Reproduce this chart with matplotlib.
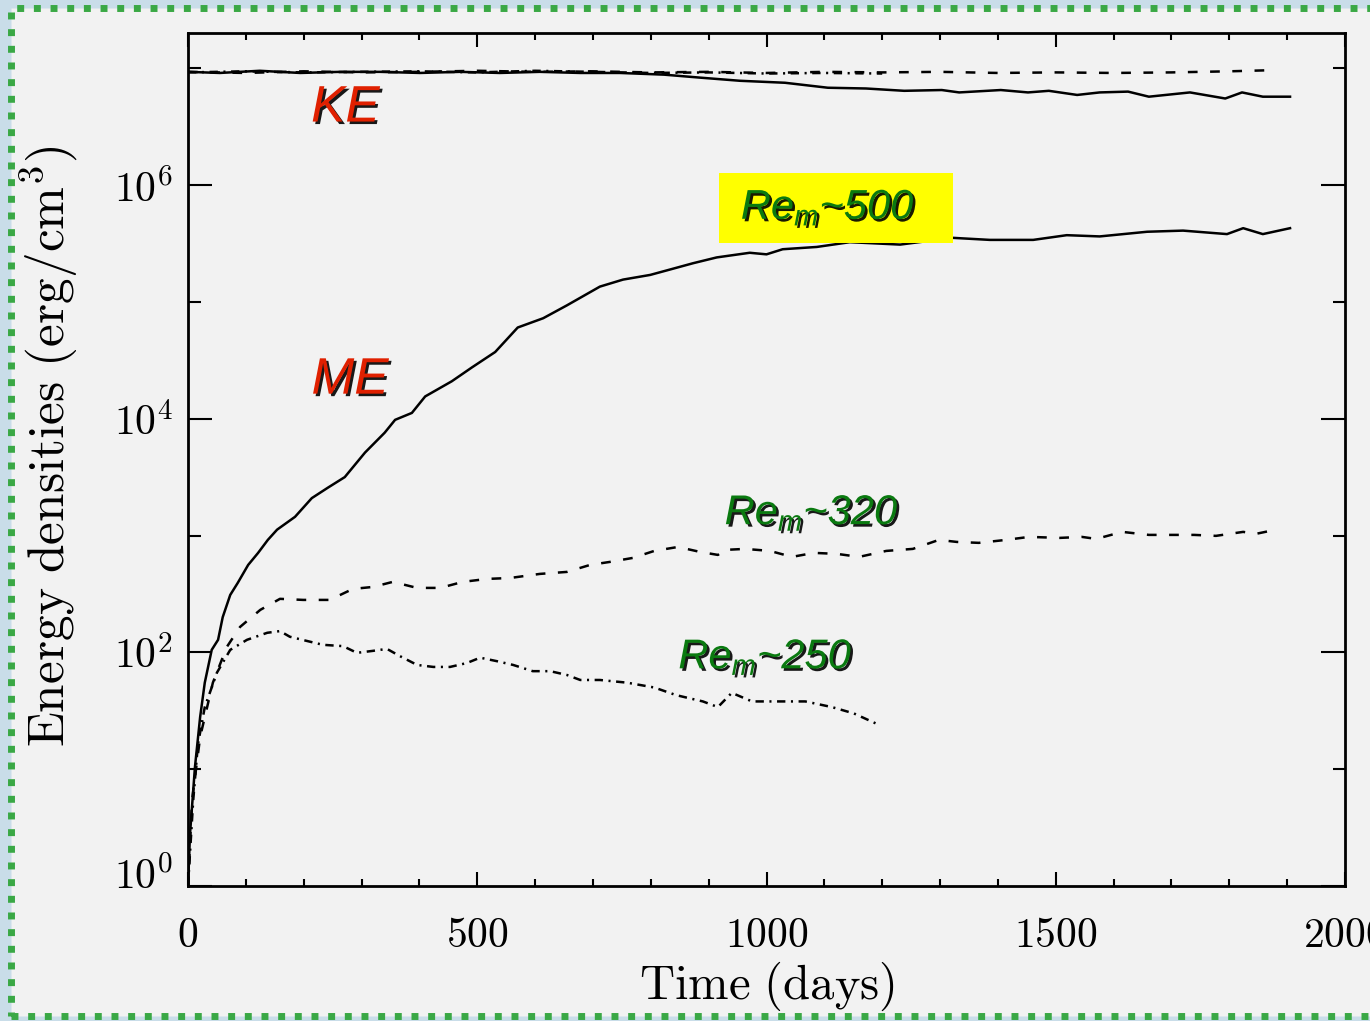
import matplotlib
matplotlib.use("Agg")
import matplotlib.pyplot as plt
import matplotlib.patheffects as pe
from matplotlib.patches import Rectangle
from matplotlib.ticker import FixedLocator, NullFormatter
from matplotlib.transforms import ScaledTranslation

plt.rcParams["mathtext.fontset"] = "cm"
plt.rcParams["mathtext.rm"] = "Liberation Sans"
plt.rcParams["mathtext.it"] = "Liberation Sans:italic"
plt.rcParams["lines.scale_dashes"] = False

# ---- data (time in days, energy density in erg/cm^3) ----
# magnetic energy, Re_m ~ 500 (solid)
t_me500 = [0, 3.5, 12, 21, 29, 41, 52, 60, 73, 86, 104, 121, 138, 154, 185, 214, 242,
           271, 306, 340, 358, 387, 410, 456, 491, 531, 570, 614, 655, 712, 752, 799,
           828, 873, 914, 971, 1000, 1028, 1087, 1144, 1231, 1322, 1386, 1461, 1519,
           1576, 1658, 1720, 1796, 1824, 1858, 1905]
me500 = [1.0, 2.8, 10.4, 28, 55, 105, 128, 200, 310, 393, 560, 708, 917, 1122, 1445,
         2089, 2570, 3162, 5129, 7586, 9772, 1.12e4, 1.55e4, 2.09e4, 2.75e4, 3.72e4,
         6.03e4, 7.24e4, 9.33e4, 1.35e5, 1.55e5, 1.70e5, 1.86e5, 2.14e5, 2.40e5, 2.63e5,
         2.55e5, 2.82e5, 2.95e5, 3.24e5, 3.09e5, 3.53e5, 3.39e5, 3.39e5, 3.72e5, 3.63e5,
         3.98e5, 4.07e5, 3.80e5, 4.27e5, 3.80e5, 4.27e5]

# magnetic energy, Re_m ~ 320 (dashed)
t_me320 = [0, 7, 21, 43, 67, 90, 125, 159, 199, 245, 285, 320, 354, 396, 436, 475, 517,
           557, 608, 655, 695, 729, 769, 806, 847, 885, 916, 928, 963, 1006, 1044, 1082,
           1122, 1160, 1207, 1253, 1298, 1329, 1367, 1414, 1454, 1507, 1545, 1570, 1615,
           1661, 1699, 1739, 1777, 1824, 1846, 1870]
me320 = [1.0, 5.4, 18.9, 55, 111, 165, 231, 287, 281, 281, 349, 363, 401, 356, 356, 401,
         425, 433, 469, 488, 560, 594, 643, 738, 798, 724, 682, 753, 768, 738, 656, 710,
         696, 656, 738, 768, 917, 881, 865, 917, 973, 954, 973, 935, 1074, 1012, 1012,
         1012, 993, 1074, 1033, 1094]

# magnetic energy, Re_m ~ 250 (dash-dot)
t_me250 = [0, 9, 17, 29, 50, 73, 102, 137, 159, 176, 206, 233, 268, 292, 320, 344, 366,
           396, 424, 453, 482, 505, 534, 562, 596, 626, 655, 678, 712, 759, 806, 844, 890,
           916, 940, 975, 1022, 1067, 1113, 1151, 1194]
me250 = [1.0, 5.4, 16.1, 34, 67, 105, 128, 147, 152, 136, 125, 116, 113, 99, 103, 107, 93,
         78, 75, 75, 81, 90, 84, 78, 69, 69, 64, 58, 58, 55, 50, 43, 38, 34, 45, 38, 38,
         38, 34, 30, 24]

# kinetic energy curves
t_ke500 = [0, 55, 124, 194, 263, 332, 401, 470, 539, 608, 678, 747, 823, 885, 954, 1032,
           1106, 1172, 1238, 1303, 1333, 1405, 1452, 1488, 1537, 1576, 1625, 1661, 1732,
           1793, 1822, 1858, 1905]
ke500 = [9.3e6, 9.1e6, 9.5e6, 9.1e6, 9.3e6, 9.3e6, 9.1e6, 9.3e6, 9.1e6, 9.3e6, 9.1e6,
         9.1e6, 8.8e6, 8.3e6, 7.8e6, 7.5e6, 6.8e6, 6.7e6, 6.4e6, 6.5e6, 6.2e6, 6.5e6,
         6.2e6, 6.4e6, 5.9e6, 6.2e6, 6.3e6, 5.7e6, 6.2e6, 5.5e6, 6.2e6, 5.7e6, 5.7e6]

t_ke320 = [0, 100, 200, 300, 400, 500, 600, 700, 800, 900, 1000, 1100, 1200, 1300, 1400,
           1500, 1600, 1700, 1800, 1870]
ke320 = [9.3e6, 9.1e6, 9.4e6, 9.2e6, 9.3e6, 9.5e6, 9.3e6, 9.4e6, 9.2e6, 9.3e6, 9.1e6,
         9.3e6, 9.2e6, 9.3e6, 9.1e6, 9.2e6, 9.1e6, 9.2e6, 9.4e6, 9.6e6]

t_ke250 = [0, 100, 200, 300, 400, 500, 600, 700, 800, 900, 1000, 1100, 1200]
ke250 = [9.2e6, 9.4e6, 9.2e6, 9.3e6, 9.4e6, 9.2e6, 9.5e6, 9.3e6, 9.1e6, 9.2e6, 9.0e6,
         9.1e6, 9.0e6]

x_major = [0, 500, 1000, 1500, 2000]
x_labels = ["$0$", "$500$", "$1000$", "$1500$", "$2000$"]
y_major = [1e0, 1e2, 1e4, 1e6]
y_labels = ["$10^0$", "$10^2$", "$10^4$", "$10^6$"]
y_minor = [1e1, 1e3, 1e5, 1e7]

# ---- figure ----
W, H = 1370, 1021
fig = plt.figure(figsize=(W / 100, H / 100), dpi=100, facecolor="#c9dde9")
frame = Rectangle((11 / W, 5 / H), 1.2, 1008 / H, transform=fig.transFigure,
                  facecolor="#f2f2f2", edgecolor="#3aa845", linewidth=5,
                  linestyle=(0, (5, 7)), capstyle="butt", zorder=-1)
fig.add_artist(frame)

ax = fig.add_axes([188 / W, 135 / H, 1157 / W, 853 / H])
ax.set_facecolor("#f2f2f2")

lw = 1.8
ax.plot(t_ke500, ke500, "k-", lw=lw)
ax.plot(t_ke320, ke320, color="k", lw=lw, linestyle=(0, (7, 9)))
ax.plot(t_ke250, ke250, color="k", lw=lw, linestyle=(0, (6, 4, 1.5, 4)))
ax.plot(t_me500, me500, "k-", lw=lw)
ax.plot(t_me320, me320, color="k", lw=lw, linestyle=(0, (7, 9)))
ax.plot(t_me250, me250, color="k", lw=lw, linestyle=(0, (6, 4, 1.5, 4)))

ax.set_yscale("log")
ax.set_xlim(0, 2000)
ax.set_ylim(1, 2e7)

ax.set_xticks(x_major)
ax.set_xticklabels(x_labels)
ax.xaxis.set_minor_locator(FixedLocator(range(0, 2001, 100)))
ax.set_yticks(y_major)
ax.set_yticklabels(y_labels)
ax.yaxis.set_minor_locator(FixedLocator(y_minor))
ax.yaxis.set_minor_formatter(NullFormatter())

ax.tick_params(which="both", direction="in", top=True, right=True, width=1.5,
               labelsize=30)
ax.tick_params(axis="x", which="major", length=10, pad=20)
ax.tick_params(axis="x", which="minor", length=5)
ax.tick_params(axis="y", which="major", length=17, pad=11)
ax.tick_params(axis="y", which="minor", length=9)
for s in ax.spines.values():
    s.set_linewidth(2.0)

# nudge the bottom y label up, as in the original
lab0 = ax.get_yticklabels()[0]
lab0.set_transform(lab0.get_transform() + ScaledTranslation(0, 0.14, fig.dpi_scale_trans))

ax.set_xlabel(r"$\mathrm{Time\ (days)}$", fontsize=35)
ax.xaxis.set_label_coords(0.5, -0.087)
ax.xaxis.label.set_va("top")
ax.set_ylabel(r"$\mathrm{Energy\ densities\ (erg/cm^3)}$", fontsize=37)
ax.yaxis.set_label_coords(-0.093, 0.515)

shadow = [pe.SimplePatchShadow(offset=(1.8, -1.8), shadow_rgbFace="black", alpha=0.9),
          pe.Normal()]
red = "#e02000"
green = "#0a7a10"
txt = dict(transform=ax.transAxes, family="Liberation Sans", style="italic",
           ha="center", va="center", path_effects=shadow, math_fontfamily="custom",
           zorder=5)
ax.text(0.136, 0.912, "KE", color=red, fontsize=37, **txt)
ax.text(0.140, 0.593, "ME", color=red, fontsize=37, **txt)

ax.add_patch(Rectangle((531 / 1157, 643 / 853), 234 / 1157, 70 / 853,
                       transform=ax.transAxes, facecolor="#ffff00", edgecolor="none",
                       zorder=4))
ax.text(0.553, 0.795, r"$Re_m$~500", color=green, fontsize=30, **txt)
ax.text(0.539, 0.437, r"$Re_m$~320", color=green, fontsize=30, **txt)
ax.text(0.499, 0.268, r"$Re_m$~250", color=green, fontsize=30, **txt)

fig.savefig("out.png", dpi=100, facecolor=fig.get_facecolor())
